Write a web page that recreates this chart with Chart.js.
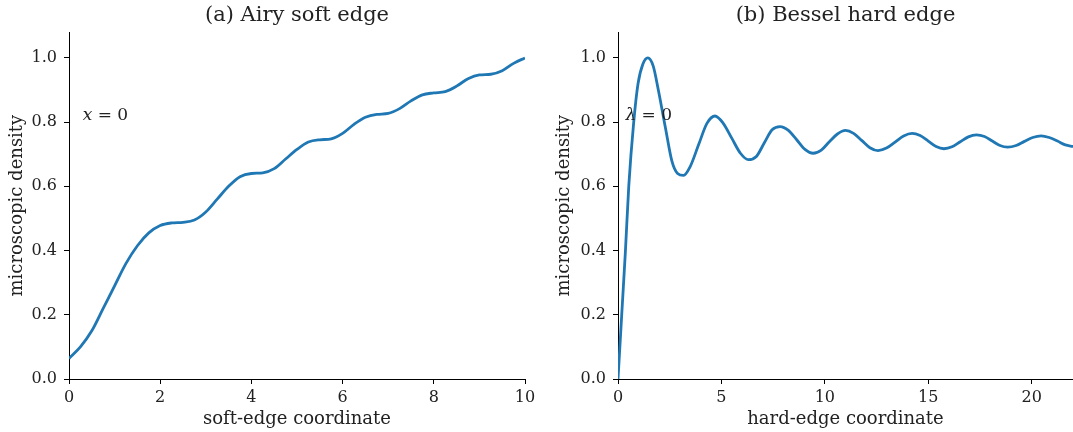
<!DOCTYPE html>
<html>
<head>
<meta charset="utf-8">
<script src="https://cdn.jsdelivr.net/npm/chart.js@4.4.1/dist/chart.umd.min.js"></script>
<style>
  html, body { margin: 0; padding: 0; background: #fff; }
  #wrap { position: relative; width: 1073px; height: 432px; }
  canvas { position: absolute; top: 0; }
  #airy { left: 0; }
  #bessel { left: 540px; }
</style>
</head>
<body>
<div id="wrap">
  <canvas id="airy" width="540" height="432"></canvas>
  <canvas id="bessel" width="533" height="432"></canvas>
</div>
<script>
// values
const airyX = [0, 0.25, 0.5, 0.75, 1, 1.25, 1.5, 1.75, 2, 2.25, 2.5, 2.75, 3, 3.25, 3.5, 3.75, 4, 4.25, 4.5, 4.75,
  5, 5.25, 5.5, 5.75, 6, 6.25, 6.5, 6.75, 7, 7.25, 7.5, 7.75, 8, 8.25, 8.5, 8.75, 9, 9.25, 9.5, 9.75, 10];
const airyY = [0.064, 0.10, 0.15, 0.22, 0.29, 0.36, 0.415, 0.455, 0.478, 0.486, 0.488, 0.495, 0.52, 0.56, 0.60, 0.63, 0.64, 0.642, 0.655, 0.685,
  0.715, 0.738, 0.745, 0.748, 0.765, 0.793, 0.815, 0.824, 0.827, 0.842, 0.866, 0.885, 0.891, 0.895, 0.912, 0.935, 0.947, 0.949, 0.96, 0.983, 1.0];

const besselX = [0, 0.18, 0.36, 0.52, 0.76, 0.97, 1.2, 1.44, 1.7, 1.95, 2.3, 2.6, 2.88, 3.17, 3.48, 3.9, 4.3, 4.69, 5.08, 5.5, 5.92, 6.3,
  6.69, 7.07, 7.45, 7.84, 8.24, 8.64, 9.04, 9.44, 9.83, 10.22, 10.61, 11.0, 11.39, 11.78, 12.18, 12.57, 12.98, 13.4, 13.81, 14.22,
  14.61, 15.0, 15.38, 15.76, 16.15, 16.55, 16.94, 17.33, 17.72, 18.1, 18.47, 18.84, 19.25, 19.65, 20.05, 20.46, 20.85, 21.25, 21.63, 22.0];
const besselY = [0, 0.2, 0.4, 0.6, 0.8, 0.92, 0.98, 1.0, 0.975, 0.9, 0.78, 0.68, 0.64, 0.634, 0.66, 0.73, 0.796, 0.819, 0.797, 0.75, 0.703, 0.683,
  0.693, 0.735, 0.776, 0.786, 0.774, 0.745, 0.715, 0.703, 0.713, 0.739, 0.763, 0.774, 0.765, 0.743, 0.720, 0.711, 0.719, 0.738, 0.757, 0.765,
  0.758, 0.741, 0.724, 0.717, 0.723, 0.739, 0.754, 0.760, 0.755, 0.741, 0.727, 0.722, 0.727, 0.740, 0.752, 0.757, 0.752, 0.741, 0.729, 0.724];

const airyTicks = [0, 2, 4, 6, 8, 10];
const besselTicks = [0, 5, 10, 15, 20];
const yTicks = [0, 0.2, 0.4, 0.6, 0.8, 1.0];

const serif = "'DejaVu Serif', serif";
const ink = '#222';

// the "x = 0" / "λ = 0" note, drawn at a data position
const notePlugin = {
  id: 'note',
  afterDatasetsDraw(chart, args, opts) {
    const ctx = chart.ctx;
    const px = chart.scales.x.getPixelForValue(opts.x);
    const py = chart.scales.y.getPixelForValue(opts.y);
    ctx.save();
    ctx.fillStyle = ink;
    ctx.textBaseline = 'middle';
    ctx.textAlign = 'left';
    ctx.font = 'italic 17px ' + serif;
    ctx.fillText(opts.sym, px, py);
    let w = ctx.measureText(opts.sym).width;
    ctx.font = '17px ' + serif;
    ctx.fillText(' = 0', px + w, py);
    ctx.restore();
  }
};

function makeChart(id, title, xLabel, xs, ys, xMax, xTicks, yWidth, yTitlePad, padRight, note) {
  return new Chart(document.getElementById(id), {
    type: 'line',
    data: {
      datasets: [{
        data: xs.map((x, i) => ({ x: x, y: ys[i] })),
        borderColor: '#1f77b4',
        borderWidth: 2.8,
        pointRadius: 0,
        cubicInterpolationMode: 'monotone',
        fill: false
      }]
    },
    options: {
      responsive: false,
      animation: false,
      devicePixelRatio: 1,
      layout: { padding: { top: 0, right: padRight, bottom: 0, left: 0 } },
      plugins: {
        legend: { display: false },
        tooltip: { enabled: false },
        title: {
          display: true,
          text: title,
          fullSize: false,
          color: ink,
          font: { family: serif, size: 21, weight: 'normal' },
          padding: { top: 3, bottom: 4 }
        },
        note: note
      },
      scales: {
        x: {
          type: 'linear',
          min: 0,
          max: xMax,
          afterFit: s => { s.height = 53; },
          afterBuildTicks: s => { s.ticks = xTicks.map(v => ({ value: v })); },
          ticks: { color: ink, font: { family: serif, size: 16 }, padding: 4, maxRotation: 0 },
          grid: { drawOnChartArea: false, drawTicks: true, tickLength: 5, color: '#000' },
          border: { display: true, color: '#000', width: 1 },
          title: { display: true, text: xLabel, color: ink, font: { family: serif, size: 18 }, padding: { top: 0, bottom: 2 } }
        },
        y: {
          type: 'linear',
          min: 0,
          max: 1.08,
          afterFit: s => { s.width = yWidth; },
          afterBuildTicks: s => { s.ticks = yTicks.map(v => ({ value: v })); },
          ticks: { color: ink, font: { family: serif, size: 16 }, padding: 7, callback: v => v.toFixed(1) },
          grid: { drawOnChartArea: false, drawTicks: true, tickLength: 5, color: '#000' },
          border: { display: true, color: '#000', width: 1 },
          title: { display: true, text: 'microscopic density', color: ink, font: { family: serif, size: 18 }, padding: { top: yTitlePad, bottom: 0 } }
        }
      }
    },
    plugins: [notePlugin]
  });
}

makeChart('airy', '(a) Airy soft edge', 'soft-edge coordinate', airyX, airyY, 10, airyTicks, 69, 7, 15,
  { x: 0.3, y: 0.82, sym: 'x' });
makeChart('bessel', '(b) Bessel hard edge', 'hard-edge coordinate', besselX, besselY, 22, besselTicks, 78, 14, 0,
  { x: 0.36, y: 0.82, sym: 'λ' });
</script>
</body>
</html>
